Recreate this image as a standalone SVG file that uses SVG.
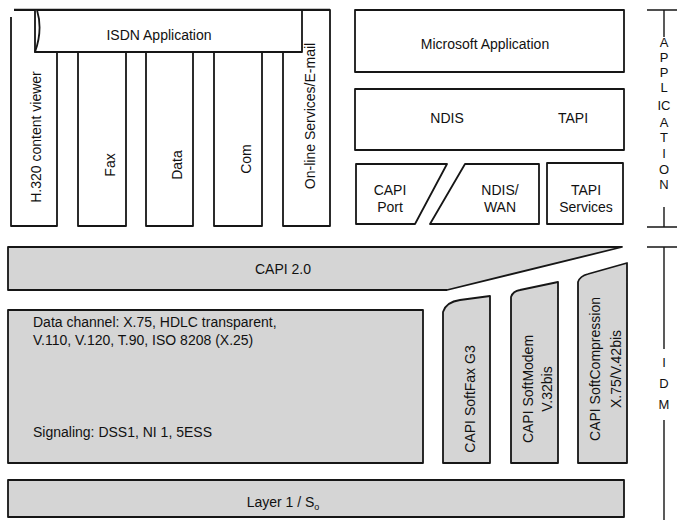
<svg xmlns="http://www.w3.org/2000/svg" width="677" height="520" viewBox="0 0 677 520">
  <style>
    .box { fill: #ffffff; stroke: #161616; stroke-width: 1.8; stroke-linejoin: round; }
    .gray { fill: #d5d5d5; stroke: #161616; stroke-width: 1.8; stroke-linejoin: round; }
    .line { fill: none; stroke: #161616; stroke-width: 1.4; }
    text { font-family: "Liberation Sans", Arial, sans-serif; font-size: 14px; fill: #111111; }
    .mid { text-anchor: middle; }
    .vl { font-size: 13px; text-anchor: middle; }
  </style>

  <!-- ISDN application stack -->
  <g id="h320">
    <path class="box" d="M11,17 L11,226 L57,226 L57,52 L35,52 L35,10 L14,10"/>
    <text class="mid" transform="translate(41,137) rotate(-90)">H.320 content viewer</text>
  </g>
  <g id="online">
    <rect class="box" x="283" y="10" width="47" height="216"/>
    <text class="mid" transform="translate(315,116) rotate(-90)">On-line Services/E-mail</text>
  </g>
  <g id="isdn-app">
    <path class="box" d="M37,10 Q43,30 35,52 L302,52 L302,10 Z"/>
    <path class="line" d="M14,9.5 L330,9.5"/>
    <text class="mid" x="159" y="40">ISDN Application</text>
  </g>
  <g id="fax">
    <rect class="box" x="78" y="52" width="48" height="174"/>
    <text class="mid" transform="translate(115,165) rotate(-90)">Fax</text>
  </g>
  <g id="data">
    <rect class="box" x="146" y="52" width="47" height="174"/>
    <text class="mid" transform="translate(182,165) rotate(-90)">Data</text>
  </g>
  <g id="com">
    <rect class="box" x="214" y="52" width="48" height="174"/>
    <text class="mid" transform="translate(251,159) rotate(-90)">Com</text>
  </g>

  <!-- Microsoft stack -->
  <g id="ms-app">
    <rect class="box" x="355" y="10" width="269" height="62"/>
    <text class="mid" x="485" y="49">Microsoft Application</text>
  </g>
  <g id="ndis-tapi">
    <rect class="box" x="355" y="89" width="269" height="61"/>
    <text class="mid" x="447" y="123">NDIS</text>
    <text class="mid" x="573" y="123">TAPI</text>
  </g>
  <g id="capi-port">
    <path class="box" d="M356,164 L447,164 L415,224 L356,224 Z"/>
    <text class="mid" x="390" y="195">CAPI</text>
    <text class="mid" x="390" y="212">Port</text>
  </g>
  <g id="ndis-wan">
    <path class="box" d="M465,164 L539,164 L539,224 L430,224 Z"/>
    <text class="mid" x="500" y="195">NDIS/</text>
    <text class="mid" x="500" y="212">WAN</text>
  </g>
  <g id="tapi-services">
    <rect class="box" x="547" y="163" width="76" height="61"/>
    <text class="mid" x="586" y="195">TAPI</text>
    <text class="mid" x="586" y="212">Services</text>
  </g>

  <!-- CAPI layer -->
  <g id="capi20">
    <path class="gray" d="M8,247 L622,247 L447,290 L8,290 Z"/>
    <text class="mid" x="283" y="274">CAPI 2.0</text>
  </g>
  <g id="data-channel">
    <rect class="gray" x="8" y="310" width="415" height="153"/>
    <text x="33" y="327">Data channel: X.75, HDLC transparent,</text>
    <text x="33" y="345">V.110, V.120, T.90, ISO 8208 (X.25)</text>
    <text x="33" y="437">Signaling: DSS1, NI 1, 5ESS</text>
  </g>
  <g id="softfax">
    <path class="gray" d="M443,463 L443,312 Q446,302 460,300 L490,296 L490,463 Z"/>
    <text class="mid" transform="translate(475,399) rotate(-90)">CAPI SoftFax G3</text>
  </g>
  <g id="softmodem">
    <path class="gray" d="M511,463 L511,297 Q513,291 520,290 L558,282 L558,463 Z"/>
    <text class="mid" transform="translate(533,389) rotate(-90)">CAPI SoftModem</text>
    <text class="mid" transform="translate(552,389) rotate(-90)">V.32bis</text>
  </g>
  <g id="softcompression">
    <path class="gray" d="M578,463 L578,282 Q580,276 588,274 L627,263 L627,463 Z"/>
    <text class="mid" transform="translate(600,369) rotate(-90)">CAPI SoftCompression</text>
    <text class="mid" transform="translate(621,369) rotate(-90)">X.75/V.42bis</text>
  </g>
  <g id="layer1">
    <rect class="gray" x="8" y="480" width="616" height="37"/>
    <text class="mid" x="283" y="507">Layer 1 / S<tspan font-size="9" dy="3">o</tspan></text>
  </g>

  <!-- side brackets -->
  <g id="bracket-application">
    <path class="line" d="M647,10 L677,10 M664,10 L664,37 M664,207 L664,227 M647,227 L677,227"/>
    <text class="vl" x="664" y="47">A</text>
    <text class="vl" x="664" y="62">P</text>
    <text class="vl" x="664" y="77">P</text>
    <text class="vl" x="664" y="92">L</text>
    <text class="vl" x="664" y="110">IC</text>
    <text class="vl" x="664" y="127">A</text>
    <text class="vl" x="664" y="142">T</text>
    <text class="vl" x="664" y="158">I</text>
    <text class="vl" x="664" y="174">O</text>
    <text class="vl" x="664" y="189">N</text>
  </g>
  <g id="bracket-idm">
    <path class="line" d="M647,247 L677,247 M664,247 L664,349 M664,420 L664,520"/>
    <text class="vl" x="664" y="367">I</text>
    <text class="vl" x="664" y="388">D</text>
    <text class="vl" x="664" y="409">M</text>
  </g>
</svg>
